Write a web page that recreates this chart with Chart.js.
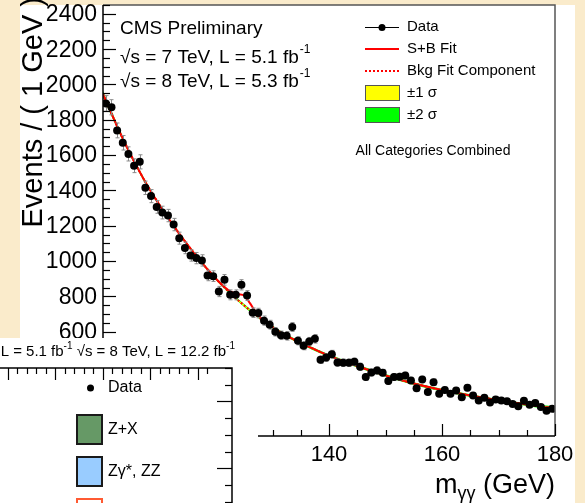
<!DOCTYPE html>
<html><head><meta charset="utf-8">
<script src="https://cdn.jsdelivr.net/npm/chart.js@4"></script>
<style>
html,body{margin:0;padding:0;background:#faebcb;overflow:hidden;width:585px;height:503px;position:relative;}
#main{position:absolute;left:0;top:0;}
#inset{position:absolute;left:-100px;top:338px;}
</style></head><body>
<canvas id="main" width="585" height="503"></canvas>
<canvas id="inset" width="358" height="200"></canvas>
<script>
// ---------- main plot data (diphoton mass, 1 GeV bins) ----------
const massBins = [100.5,101.5,102.5,103.5,104.5,105.5,106.5,107.5,108.5,109.5,
  110.5,111.5,112.5,113.5,114.5,115.5,116.5,117.5,118.5,119.5,
  120.5,121.5,122.5,123.5,124.5,125.5,126.5,127.5,128.5,129.5,
  130.5,131.5,132.5,133.5,134.5,135.5,136.5,137.5,138.5,139.5,
  140.5,141.5,142.5,143.5,144.5,145.5,146.5,147.5,148.5,149.5,
  150.5,151.5,152.5,153.5,154.5,155.5,156.5,157.5,158.5,159.5,
  160.5,161.5,162.5,163.5,164.5,165.5,166.5,167.5,168.5,169.5,
  170.5,171.5,172.5,173.5,174.5,175.5,176.5,177.5,178.5,179.5];
const events = [1893,1871,1740,1670,1607,1540,1562,1415,1368,1307,
  1275,1258,1207,1130,1075,1032,1017,1004,919,915,
  828,894,809,809,866,805,708,706,663,640,
  600,580,577,627,549,521,545,560,442,454,
  473,426,425,425,430,402,344,369,381,368,
  321,344,346,352,324,281,330,259,315,249,
  271,249,268,230,283,239,211,226,200,217,
  211,207,191,179,209,187,197,174,153,164];
const eventErrors = [44,43,42,41,40,39,40,38,37,36,
  36,35,35,34,33,32,32,32,30,30,
  29,30,28,28,29,28,27,27,26,25,
  24,24,24,25,23,23,23,24,21,21,
  22,21,21,21,21,20,19,19,20,19,
  18,19,19,19,18,17,18,16,18,16,
  16,16,16,15,17,15,15,15,14,15,
  15,14,14,13,14,14,14,13,12,13];
const fitMass = [100,102,104,106,108,110,112,114,116,118,120,121,122,123,124,125,126,127,128,129,130,132,134,136,138,140,143,146,150,155,160,165,170,175,180];
const bkgFit  = [1945,1800,1660,1535,1420,1318,1222,1133,1050,972,900,867,835,805,776,749,722,697,672,649,627,586,553,522,492,465,428,395,353,307,270,239,212,188,166];
const sbFit   = [1945,1800,1660,1535,1420,1318,1222,1133,1050,972,900,868,840,822,812,805,762,713,676,650,627,586,553,522,492,465,428,395,353,307,270,239,212,188,166];
const sigma1  = [9,7,6,5,5,4,4,4,4,4,4,4,4,4,4,4,4,4,4,4,4,4,4,4,4,4,4,4,4,4,4,4,4,4,6];
const yTickLabels = [600,800,1000,1200,1400,1600,1800,2000,2200,2400];
const xTickLabels = [100,120,140,160,180];
const legendLabels = ['Data','S+B Fit','Bkg Fit Component','\u00B11 \u03C3','\u00B12 \u03C3'];

// ---------- inset (second plot) legend ----------
const insetLabels = ['Data','Z+X','Z\u03B3*, ZZ','m\u2095=126 GeV'];
const insetColors = ['#000000','#669966','#99ccff','#ffffff'];
const insetBorders = ['#000000','#1a1a1a','#1a1a1a','#ff5a32'];

const FONT = '"Liberation Sans", Arial, Helvetica, sans-serif';
const pts = massBins.map((m,i)=>({x:m,y:events[i]}));
const line = arr => fitMass.map((m,i)=>({x:m,y:arr[i]}));
const band = (k) => fitMass.map((m,i)=>({x:m,y:bkgFit[i]+k*sigma1[i]}));

const DATA_IDX = 0;
const mainDecor = {
  id:'mainDecor',
  beforeDraw(chart){
    const c=chart.ctx; c.save();
    c.fillStyle='#faebcb'; c.fillRect(0,0,585,503);
    c.fillStyle='#ffffff'; c.fillRect(20,5,555,498);
    c.restore();
  },
  beforeDatasetDraw(chart,args){
    if(args.index!==DATA_IDX) return;
    const c=chart.ctx, xs=chart.scales.x, ys=chart.scales.y;
    c.save(); c.strokeStyle='#8a8a8a'; c.lineWidth=1;
    massBins.forEach((m,i)=>{
      const px=Math.round(xs.getPixelForValue(m))+0.5;
      const y1=ys.getPixelForValue(events[i]+eventErrors[i]);
      const y2=ys.getPixelForValue(events[i]-eventErrors[i]);
      c.beginPath(); c.moveTo(px,y1); c.lineTo(px,y2);
      c.moveTo(px-2,y1); c.lineTo(px+2,y1); c.moveTo(px-2,y2); c.lineTo(px+2,y2);
      c.stroke();
    });
    c.restore();
  },
  afterDraw(chart){
    const c=chart.ctx, xs=chart.scales.x, ys=chart.scales.y, a=chart.chartArea;
    c.save();
    // frame
    c.lineWidth=1.5; c.strokeStyle='#555';
    c.beginPath(); c.moveTo(a.left,a.top); c.lineTo(a.right,a.top); c.lineTo(a.right,a.bottom); c.stroke();
    c.strokeStyle='#000';
    c.beginPath(); c.moveTo(a.left,a.top); c.lineTo(a.left,a.bottom); c.lineTo(a.right,a.bottom); c.stroke();
    // y ticks
    c.lineWidth=1.2;
    for(let v=0; v<=2450; v+=50){
      const py=Math.round(ys.getPixelForValue(v))+0.5; if(py<a.top||py>a.bottom) continue;
      const len = (v%200===0)?13:7;
      c.beginPath(); c.moveTo(a.left,py); c.lineTo(a.left+len,py); c.stroke();
    }
    for(let m=100; m<=180; m+=5){
      const px=Math.round(xs.getPixelForValue(m))+0.5;
      const len = (m%20===0)?12:6;
      c.beginPath(); c.moveTo(px,a.bottom); c.lineTo(px,a.bottom-len); c.stroke();
    }
    // tick labels
    c.fillStyle='#000';
    c.font='23px '+FONT; c.textAlign='right'; c.textBaseline='middle';
    yTickLabels.forEach(v=>{ c.fillText(String(v), a.left-6, ys.getPixelForValue(v)+1); });
    c.font='22px '+FONT; c.textAlign='center'; c.textBaseline='alphabetic';
    xTickLabels.forEach(v=>{ c.fillText(String(v), xs.getPixelForValue(v), 461); });
    // x title
    c.textAlign='left';
    c.font='27px '+FONT; const w1=c.measureText('m').width, w3=c.measureText(' (GeV)').width;
    c.font='18px '+FONT; const w2=c.measureText('\u03B3\u03B3').width;
    let x0=a.right-(w1+w2+w3);
    c.font='27px '+FONT; c.fillText('m',x0,493);
    c.font='18px '+FONT; c.fillText('\u03B3\u03B3',x0+w1,499);
    c.font='27px '+FONT; c.fillText(' (GeV)',x0+w1+w2,493);
    // y title
    c.save(); c.translate(42,-3); c.rotate(-Math.PI/2);
    c.font='29px '+FONT; c.textAlign='right'; c.textBaseline='alphabetic';
    c.fillText('Events / ( 1 GeV )',0,0); c.restore();
    // CMS texts
    c.textAlign='left'; c.textBaseline='middle';
    c.font='19px '+FONT; c.fillText('CMS Preliminary',120,29);
    const lumi=(txt,y)=>{ c.font='19px '+FONT; c.fillText(txt,120,y); const w=c.measureText(txt).width; c.font='12px '+FONT; c.fillText('-1',120+w+1,y-8); };
    lumi('\u221As = 7 TeV, L = 5.1 fb',58);
    lumi('\u221As = 8 TeV, L = 5.3 fb',82);
    // legend
    const lx1=365, lx2=399, tx=407, rows=[27,49,71,93,115];
    c.lineWidth=1; c.strokeStyle='#000';
    c.beginPath(); c.moveTo(lx1,rows[0]+0.5); c.lineTo(lx2,rows[0]+0.5); c.stroke();
    c.beginPath(); c.arc((lx1+lx2)/2,rows[0]+0.5,3.5,0,2*Math.PI); c.fillStyle='#000'; c.fill();
    c.strokeStyle='#ff0000'; c.lineWidth=2;
    c.beginPath(); c.moveTo(lx1,rows[1]); c.lineTo(lx2,rows[1]); c.stroke();
    c.setLineDash([2,2]); c.beginPath(); c.moveTo(lx1,rows[2]); c.lineTo(lx2,rows[2]); c.stroke(); c.setLineDash([]);
    c.lineWidth=1; c.strokeStyle='#555';
    c.fillStyle='#ffff00'; c.fillRect(lx1,85,lx2-lx1,15); c.strokeRect(lx1+0.5,85.5,lx2-lx1,15);
    c.fillStyle='#00ff00'; c.fillRect(lx1,107,lx2-lx1,15); c.strokeRect(lx1+0.5,107.5,lx2-lx1,15);
    c.fillStyle='#000'; c.font='15px '+FONT;
    legendLabels.forEach((t,i)=>c.fillText(t,tx,rows[i]));
    c.font='14px '+FONT; c.textAlign='center';
    c.fillText('All Categories Combined',433,151);
    c.restore();
  }
};

new Chart(document.getElementById('main'),{
  type:'line',
  data:{datasets:[
    {label:'Data',type:'scatter',data:pts,showLine:false,pointRadius:4,pointBackgroundColor:'#000',pointBorderColor:'#000',pointBorderWidth:0,order:0},
    {label:'S+B Fit',data:line(sbFit),borderColor:'#ff0000',borderWidth:2,pointRadius:0,cubicInterpolationMode:'monotone',fill:false,order:1},
    {label:'Bkg Fit Component',data:line(bkgFit),borderColor:'#ff0000',borderWidth:2,borderDash:[2,2],pointRadius:0,cubicInterpolationMode:'monotone',fill:false,order:2},
    {label:'+1s',data:band(1),borderWidth:0,pointRadius:0,cubicInterpolationMode:'monotone',backgroundColor:'#ffff00',fill:'+1',order:3},
    {label:'-1s',data:band(-1),borderWidth:0,pointRadius:0,cubicInterpolationMode:'monotone',fill:false,order:3},
    {label:'+2s',data:band(2),borderWidth:0,pointRadius:0,cubicInterpolationMode:'monotone',backgroundColor:'#00ff00',fill:'+1',order:4},
    {label:'-2s',data:band(-2),borderWidth:0,pointRadius:0,cubicInterpolationMode:'monotone',fill:false,order:4}
  ]},
  options:{
    responsive:false, animation:false, devicePixelRatio:1,
    layout:{padding:{left:0,top:5,right:30,bottom:0}},
    plugins:{legend:{display:false},tooltip:{enabled:false}},
    scales:{
      x:{type:'linear',min:100,max:180,grid:{display:false},border:{display:false},ticks:{display:false},
         afterFit(s){s.height=67;}},
      y:{type:'linear',min:10,max:2450,grid:{display:false},border:{display:false},ticks:{display:false},
         afterFit(s){s.width=103;}}
    }
  },
  plugins:[mainDecor]
});

// ---------- inset: second plot (overlapping at bottom-left) ----------
const insetDecor = {
  id:'insetDecor',
  beforeDraw(chart){ const c=chart.ctx; c.save(); c.fillStyle='#fff'; c.fillRect(0,0,chart.width,chart.height); c.restore(); },
  afterDraw(chart){
    const c=chart.ctx, xs=chart.scales.x, ys=chart.scales.y, a=chart.chartArea;
    c.save();
    c.fillStyle='#000'; c.textBaseline='middle'; c.textAlign='right';
    // header
    const parts=[['\u221As = 7 TeV, L = 5.1 fb',15],['-1',10],[' \u221As = 8 TeV, L = 12.2 fb',15],['-1',10]];
    let tot=0; parts.forEach(p=>{c.font=p[1]+'px '+FONT; tot+=c.measureText(p[0]).width;});
    let x=335-tot; c.textAlign='left';
    parts.forEach(p=>{c.font=p[1]+'px '+FONT; c.fillText(p[0],x,p[1]===15?14:8); x+=c.measureText(p[0]).width;});
    // frame
    c.strokeStyle='#000'; c.lineWidth=1.5;
    c.beginPath(); c.moveTo(a.left,a.top); c.lineTo(a.right,a.top); c.lineTo(a.right,a.bottom); c.stroke();
    c.lineWidth=1.2;
    for(let v=60; v<=184; v+=4){
      const px=Math.round(xs.getPixelForValue(v))+0.5; if(px<a.left||px>a.right) continue;
      const len=(v%20===0)?12:6;
      c.beginPath(); c.moveTo(px,a.top); c.lineTo(px,a.top+len); c.stroke();
    }
    for(let v=0; v<=9; v+=0.5){
      const py=Math.round(ys.getPixelForValue(v))+0.5; if(py<a.top||py>a.bottom) continue;
      const len=(v%2===0)?15:7;
      c.beginPath(); c.moveTo(a.right,py); c.lineTo(a.right-len,py); c.stroke();
    }
    // legend
    const bx=177, bw=25, tx=208, rows=[50,92,134,176];
    c.font='16px '+FONT; c.textAlign='left';
    chart.data.datasets.forEach((d,i)=>{
      const y=rows[i];
      if(i===0){ c.beginPath(); c.arc(bx+bw/2+1,y,3.5,0,2*Math.PI); c.fillStyle='#000'; c.fill(); }
      else { c.fillStyle=insetColors[i]; c.fillRect(bx,y-15,bw,29); c.lineWidth=2; c.strokeStyle=insetBorders[i]; c.strokeRect(bx,y-15,bw,29); }
      c.fillStyle='#000'; c.fillText(d.label,tx,y);
    });
    c.restore();
  }
};
new Chart(document.getElementById('inset'),{
  type:'bar',
  data:{labels:[],datasets:insetLabels.map((l,i)=>({label:l,data:[],backgroundColor:insetColors[i],borderColor:insetBorders[i]}))},
  options:{
    responsive:false, animation:false, devicePixelRatio:1,
    layout:{padding:{left:0,top:30,right:26,bottom:0}},
    plugins:{legend:{display:false},tooltip:{enabled:false}},
    scales:{
      x:{type:'linear',min:66.3,max:182.8,display:false},
      y:{type:'linear',min:3.925,max:9,display:false}
    }
  },
  plugins:[insetDecor]
});
</script>
</body></html>
